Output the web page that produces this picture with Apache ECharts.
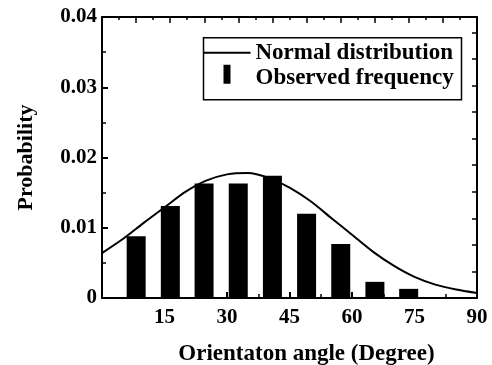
<!doctype html>
<html>
	<head>
		<meta charset="utf-8">
		<title></title>
		<script src="https://cdn.jsdelivr.net/npm/echarts@6/dist/echarts.min.js"></script>
		<style>
			html,body {
				margin: 0;
				width: 100%;
				height: 100%;
				background-color: #fff;
			}
			#container {
				width: 492px;
				height: 365px;
			}
		</style>
	</head>
	<body>
		<div id="container"></div>
		<script type="text/javascript">
			// observed frequency (bar centres in degrees)
			var barAngles = [8.2, 16.4, 24.5, 32.7, 40.9, 49.1, 57.3, 65.5, 73.6];
			var barValues = [0.0088, 0.0131, 0.0163, 0.0163, 0.0174, 0.0120, 0.0077, 0.0023, 0.0013];

			// normal distribution curve
			var curveAngles = [0, 5, 10, 15, 20, 25, 30, 35, 40, 45, 50, 55, 60, 65, 70, 75, 80, 85, 90];
			var curveValues = [0.0064, 0.0084, 0.0107, 0.0129, 0.0151, 0.0167, 0.0176, 0.0178, 0.0171, 0.0157,
				0.0138, 0.0114, 0.0090, 0.0066, 0.0046, 0.0030, 0.0019, 0.0012, 0.0007];

			var legendNames = ['Normal distribution', 'Observed frequency'];

			var font = 'Liberation Serif';
			var dom = document.getElementById('container');
			var myChart = echarts.init(dom);

			var bars = [];
			for (var i = 0; i < barAngles.length; i++) {
				bars.push([barAngles[i], barValues[i]]);
			}
			var curve = [];
			for (var j = 0; j < curveAngles.length; j++) {
				curve.push([curveAngles[j], curveValues[j]]);
			}

			var line = { onZero: false, lineStyle: { color: '#000', width: 2 } };

			var option = {
				animation: false,
				backgroundColor: '#fff',
				grid: { left: 102, right: 15, top: 17, bottom: 67, containLabel: false, outerBoundsMode: 'none' },
				xAxis: [{
					type: 'value',
					position: 'bottom',
					min: 0,
					max: 90,
					interval: 15,
					name: 'Orientaton angle (Degree)',
					nameLocation: 'middle',
					nameGap: 45,
					nameTextStyle: {
						fontFamily: font, fontWeight: 'bold', fontSize: 23, color: '#000',
						padding: [0, 0, 0, 34]
					},
					axisLine: line,
					axisTick: { inside: true, length: 6, lineStyle: { color: '#000', width: 2 } },
					minorTick: { show: true, splitNumber: 2, length: 4, lineStyle: { color: '#000', width: 1.5 } },
					splitLine: { show: false },
					axisLabel: {
						showMinLabel: false,
						margin: 9,
						fontFamily: font, fontWeight: 'bold', fontSize: 21, color: '#000'
					}
				}, {
					type: 'value',
					position: 'top',
					min: 0,
					max: 90,
					interval: 90 / 11,
					axisLine: line,
					axisTick: { inside: true, length: 6, lineStyle: { color: '#000', width: 1.5 } },
					minorTick: { show: true, splitNumber: 2, length: 3, lineStyle: { color: '#000', width: 1.5 } },
					splitLine: { show: false },
					axisLabel: { show: false }
				}],
				yAxis: [{
					type: 'value',
					position: 'left',
					min: 0,
					max: 0.04,
					interval: 0.01,
					name: 'Probability',
					nameLocation: 'middle',
					nameGap: 65,
					nameTextStyle: { fontFamily: font, fontWeight: 'bold', fontSize: 22, color: '#000' },
					axisLine: line,
					axisTick: { inside: true, length: 6, lineStyle: { color: '#000', width: 2 } },
					minorTick: { show: true, splitNumber: 2, length: 4, lineStyle: { color: '#000', width: 1.5 } },
					splitLine: { show: false },
					axisLabel: {
						margin: 5,
						fontFamily: font, fontWeight: 'bold', fontSize: 21, color: '#000'
					}
				}, {
					type: 'value',
					position: 'right',
					min: 0,
					max: 10.58,
					interval: 1,
					axisLine: line,
					axisTick: { inside: true, length: 5, lineStyle: { color: '#000', width: 1.5 } },
					splitLine: { show: false },
					axisLabel: { show: false }
				}],
				graphic: [{
					type: 'group',
					left: 201,
					top: 37,
					children: [{
						type: 'rect',
						shape: { x: 0, y: 0, width: 258, height: 62 },
						style: { fill: '#fff', stroke: '#000', lineWidth: 1.5 }
					}, {
						type: 'line',
						shape: { x1: 0, y1: 15, x2: 47, y2: 15 },
						style: { stroke: '#000', lineWidth: 2 }
					}, {
						type: 'rect',
						shape: { x: 20, y: 27, width: 7, height: 19 },
						style: { fill: '#000' }
					}, {
						type: 'text',
						x: 52,
						y: 15,
						style: {
							text: legendNames[0], fill: '#000',
							font: 'bold 23px "Liberation Serif"', verticalAlign: 'middle'
						}
					}, {
						type: 'text',
						x: 52,
						y: 40,
						style: {
							text: legendNames[1], fill: '#000',
							font: 'bold 23px "Liberation Serif"', verticalAlign: 'middle'
						}
					}]
				}],
				series: [{
					name: legendNames[1],
					type: 'bar',
					xAxisIndex: 0,
					yAxisIndex: 0,
					barWidth: 19,
					itemStyle: { color: '#000' },
					data: bars
				}, {
					name: legendNames[0],
					type: 'line',
					xAxisIndex: 0,
					yAxisIndex: 0,
					smooth: 0.25,
					symbol: 'none',
					lineStyle: { color: '#000', width: 2 },
					data: curve
				}]
			};

			myChart.setOption(option, true);
		</script>
	</body>
</html>
